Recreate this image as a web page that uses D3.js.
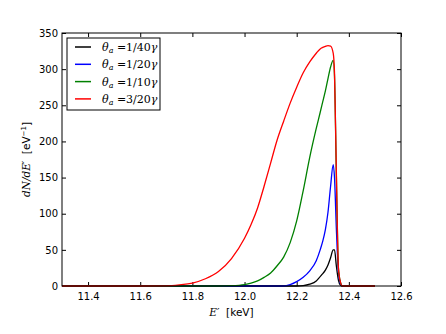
<!DOCTYPE html>
<html lang="en">
<head>
  <meta charset="UTF-8">
  <title>dN/dE spectra</title>
  <style>
    body { margin: 0; background: #fff; }
    .tick text { font: 10px "DejaVu Sans", sans-serif; fill: #000; }
    .tick line { stroke: #000; }
    .curve { fill: none; stroke-width: 1.3px; }
    .math { font-family: "DejaVu Serif", serif; font-style: italic; }
    .rm { font-family: "DejaVu Sans", sans-serif; }
    .lbl { white-space: pre; }
  </style>
</head>
<body>
  <svg width="446" height="334"></svg>

  <script src="https://d3js.org/d3.v7.min.js"></script>
  <script>
    // energy grid (keV) shared by every curve
    const energy = [11.3, 11.6, 11.7, 11.75, 11.8, 11.85, 11.9, 11.95, 12.0, 12.025, 12.05, 12.075,
      12.1, 12.125, 12.15, 12.175, 12.2, 12.225, 12.25, 12.275, 12.29, 12.3, 12.31, 12.32,
      12.33, 12.34, 12.345, 12.352, 12.36, 12.368, 12.375, 12.4, 12.5];

    const theta40 = [0, 0, 0, 0, 0, 0, 0, 0, 0, 0, 0, 0,
      0, 0, 0, 0, 0, 0.5, 2.5, 7, 13, 17, 22, 29,
      39, 50, 50, 28, 8, 1, 0, 0, 0];
    const theta20 = [0, 0, 0, 0, 0, 0, 0, 0, 0, 0, 0, 0,
      0, 0, 0, 2, 6, 12, 21, 35, 50, 62, 78, 102,
      138, 168, 150, 80, 20, 3, 0, 0, 0];
    const theta10 = [0, 0, 0, 0, 0, 0, 0, 0.4, 2, 4, 7, 12,
      18, 28, 40, 60, 90, 132, 178, 218, 240, 255, 270, 287,
      303, 312, 290, 155, 25, 5, 0, 0, 0];
    const theta3_20 = [0, 0, 0.2, 1.5, 4, 10, 20, 38, 66, 85, 108, 138,
      170, 202, 228, 253, 275, 295, 310, 322, 328, 330, 331.5, 332.5,
      332, 322, 295, 160, 25, 5, 0, 0, 0];

    const series = [
      { label: "1/40", values: theta40, color: "#000000" },
      { label: "1/20", values: theta20, color: "#0000ff" },
      { label: "1/10", values: theta10, color: "#008000" },
      { label: "3/20", values: theta3_20, color: "#ff0000" }
    ];

    const xTicks = [11.4, 11.6, 11.8, 12.0, 12.2, 12.4, 12.6];
    const yTicks = [0, 50, 100, 150, 200, 250, 300, 350];

    const svg = d3.select("svg");
    const margin = { top: 33, right: 45, bottom: 48, left: 62 };
    const width = 446 - margin.left - margin.right;
    const height = 334 - margin.top - margin.bottom;

    const g = svg.append("g").attr("transform", `translate(${margin.left},${margin.top})`);

    const x = d3.scaleLinear().domain([11.3, 12.6]).range([0, width]);
    const y = d3.scaleLinear().domain([0, 350]).range([height, 0]);

    // axes, ticks pointing inward on all four sides
    g.append("g").attr("transform", `translate(0,${height})`)
      .call(d3.axisBottom(x).tickValues(xTicks).tickFormat(d3.format(".1f"))
        .tickSize(-4).tickPadding(7))
      .call(a => a.select(".domain").remove());
    g.append("g")
      .call(d3.axisTop(x).tickValues(xTicks).tickFormat("").tickSize(-4))
      .call(a => a.select(".domain").remove());
    g.append("g")
      .call(d3.axisLeft(y).tickValues(yTicks).tickSize(-4).tickPadding(4))
      .call(a => a.select(".domain").remove());
    g.append("g").attr("transform", `translate(${width},0)`)
      .call(d3.axisRight(y).tickValues(yTicks).tickFormat("").tickSize(-4))
      .call(a => a.select(".domain").remove());

    // curves
    const line = d3.line()
      .x((d, i) => x(energy[i]))
      .y(d => y(d))
      .curve(d3.curveMonotoneX);

    g.selectAll(".curve")
      .data(series)
      .join("path")
      .attr("class", "curve")
      .attr("stroke", d => d.color)
      .attr("d", d => line(d.values));

    // frame
    g.append("rect")
      .attr("width", width).attr("height", height)
      .attr("fill", "none").attr("stroke", "#000").attr("stroke-width", 1);

    // legend
    const leg = g.append("g").attr("transform", "translate(5,5)");
    leg.append("rect")
      .attr("width", 93).attr("height", 72)
      .attr("fill", "#fff").attr("stroke", "#000").attr("stroke-width", 1);
    series.forEach((s, i) => {
      const row = leg.append("g").attr("transform", `translate(0,${9 + i * 17.3})`);
      row.append("line")
        .attr("x1", 8).attr("x2", 24)
        .attr("stroke", s.color).attr("stroke-width", 1.5);
      const t = row.append("text").attr("x", 35).attr("y", 4)
        .attr("font-size", 11);
      t.append("tspan").attr("class", "math").text("θ");
      t.append("tspan").attr("class", "math").attr("font-size", 8).attr("dy", 2).text("a");
      t.append("tspan").attr("font-family", "DejaVu Serif").attr("dy", -2).text(" =" + s.label);
      t.append("tspan").attr("class", "math").text("γ");
    });

    // axis labels
    const xl = svg.append("text").attr("class", "lbl")
      .attr("x", margin.left + width / 2).attr("y", 316)
      .attr("text-anchor", "middle").attr("font-size", 10.5);
    xl.append("tspan").attr("class", "math").text("E′");
    xl.append("tspan").attr("class", "rm").text("  [keV]");

    const yl = svg.append("text").attr("class", "lbl")
      .attr("transform", `translate(30,${margin.top + height / 2}) rotate(-90)`)
      .attr("text-anchor", "middle").attr("font-size", 10.5);
    yl.append("tspan").attr("class", "math").text("dN/dE′");
    yl.append("tspan").attr("class", "rm").text("  [eV");
    yl.append("tspan").attr("class", "rm").attr("font-size", 7).attr("dy", -4).text("−1");
    yl.append("tspan").attr("class", "rm").attr("dy", 4).text("]");
  </script>
</body>
</html>
